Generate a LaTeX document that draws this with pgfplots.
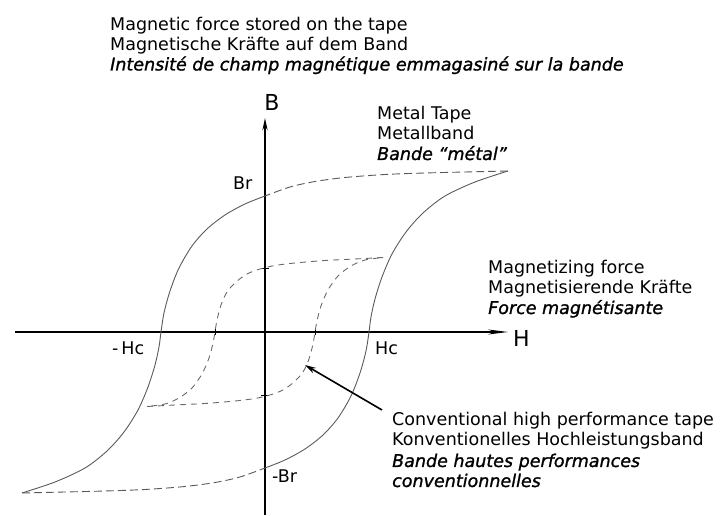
\documentclass[border=0pt]{standalone}
\usepackage{fontspec}
\setmainfont{DejaVu Sans}[ItalicFeatures={FakeBold=1.2}]
\usepackage{pgfplots}
\pgfplotsset{compat=1.18}
\usetikzlibrary{arrows.meta}

\definecolor{loopgray}{HTML}{5A5A5A}
\definecolor{innergray}{HTML}{6A6A6A}

\newcommand{\txt}{\fontsize{17.5}{20}\selectfont}
\newcommand{\axlabel}{\fontsize{22}{24}\selectfont}

\begin{document}
\begin{tikzpicture}
\begin{axis}[
  scale only axis,
  width=721pt, height=516pt,
  xmin=-265, xmax=456,
  ymin=-184, ymax=332,
  hide axis,
  clip=false,
]
% axes: magnetizing force H and flux density B
\addplot[black, line width=1.4pt, -{Stealth[length=20pt,width=5pt]}]
  coordinates {(-250,0) (243,0)};
\addplot[black, line width=2pt, -{Stealth[length=12pt,width=5pt]}]
  coordinates {(0,-183) (0,214)};
% small marks where the inner loop meets the axes
\addplot[black, line width=0.8pt] coordinates {(-50,-3) (-50,3)};
\addplot[black, line width=0.8pt] coordinates {(50,-3) (50,3)};
\addplot[black, line width=0.8pt] coordinates {(-4,63.5) (4,63.5)};
\addplot[black, line width=0.8pt] coordinates {(-4,-63.5) (4,-63.5)};

% metal tape loop, descending branch
\addplot[loopgray, line width=0.9pt, dash pattern=on 8pt off 4pt, smooth]
  coordinates {(243,161) (200,160) (160,159) (120,157.5) (80,154.5) (50,150.5) (25,145) (0,136)};
\addplot[loopgray, line width=0.9pt, smooth]
  coordinates {(0,136) (-20,128) (-40,117) (-58,103) (-73,86) (-86,64) (-95,41) (-101,19)
               (-104,0) (-106,-15) (-110,-33) (-117,-55) (-127,-78) (-141,-100)
               (-158,-119) (-180,-136) (-210,-150) (-243,-161)};
% metal tape loop, ascending branch
\addplot[loopgray, line width=0.9pt, dash pattern=on 8pt off 4pt, smooth]
  coordinates {(-243,-161) (-200,-160) (-160,-159) (-120,-157.5) (-80,-154.5) (-50,-150.5) (-25,-145) (0,-136)};
\addplot[loopgray, line width=0.9pt, smooth]
  coordinates {(0,-136) (20,-128) (40,-117) (58,-103) (73,-86) (86,-64) (95,-41) (101,-19)
               (104,0) (106,15) (110,33) (117,55) (127,78) (141,100)
               (158,119) (180,136) (210,150) (243,161)};

% conventional high performance tape loop
\addplot[innergray, line width=0.9pt, dash pattern=on 6pt off 5pt, smooth]
  coordinates {(118,74.5) (90,73) (60,71.5) (30,69) (10,66.5) (-5,63) (-18,58) (-29,50)
               (-38,40) (-44,27) (-48,12) (-50,0) (-52,-11) (-56,-26) (-63,-42)
               (-73,-56) (-86,-66) (-100,-72) (-118,-74.5)};
\addplot[innergray, line width=0.9pt, dash pattern=on 6pt off 5pt, smooth]
  coordinates {(-118,-74.5) (-90,-73) (-60,-71.5) (-30,-69) (-10,-66.5) (5,-63) (18,-58) (29,-50)
               (38,-40) (44,-27) (48,-12) (50,0) (52,11) (56,26) (63,42)
               (73,56) (86,66) (100,72) (118,74.5)};

% pointer to the conventional loop
\addplot[black, line width=1.6pt, -{Stealth[length=11pt,width=6pt]}]
  coordinates {(117,-78) (40,-33)};

% labels
\node[anchor=base west, inner sep=0] at (axis cs:-155,301.5) {\txt Magnetic force stored on the tape};
\node[anchor=base west, inner sep=0] at (axis cs:-155,281.5) {\txt Magnetische Kräfte auf dem Band};
\node[anchor=base west, inner sep=0] at (axis cs:-155,261.5) {\txt\itshape Intensité de champ magnétique emmagasiné sur la bande};

\node[anchor=base, inner sep=0] at (axis cs:7,221) {\axlabel B};
\node[anchor=base west, inner sep=0] at (axis cs:-32,142) {\txt Br};

\node[anchor=base west, inner sep=0] at (axis cs:112,212) {\txt Metal Tape};
\node[anchor=base west, inner sep=0] at (axis cs:112,192) {\txt Metallband};
\node[anchor=base west, inner sep=0] at (axis cs:112,172) {\txt\itshape Bande ``métal''};

\node[anchor=base west, inner sep=0] at (axis cs:223,58) {\txt Magnetizing force};
\node[anchor=base west, inner sep=0] at (axis cs:223,38) {\txt Magnetisierende Kräfte};
\node[anchor=base west, inner sep=0] at (axis cs:223,18) {\txt\itshape Force magnétisante};

\node[anchor=base west, inner sep=0] at (axis cs:248,-15) {\axlabel H};
\node[anchor=base west, inner sep=0] at (axis cs:110,-23) {\txt Hc};
\node[anchor=base west, inner sep=0] at (axis cs:-153,-23) {\txt -\,Hc};
\node[anchor=base west, inner sep=0] at (axis cs:7,-151) {\txt -Br};

\node[anchor=base west, inner sep=0] at (axis cs:127,-94) {\txt Conventional high performance tape};
\node[anchor=base west, inner sep=0] at (axis cs:127,-114) {\txt Konventionelles Hochleistungsband};
\node[anchor=base west, inner sep=0] at (axis cs:127,-135) {\txt\itshape Bande hautes performances};
\node[anchor=base west, inner sep=0] at (axis cs:127,-155) {\txt\itshape conventionnelles};
\end{axis}
\pgfresetboundingbox
\path (current axis.south west) rectangle (current axis.north east);
\end{tikzpicture}
\end{document}
